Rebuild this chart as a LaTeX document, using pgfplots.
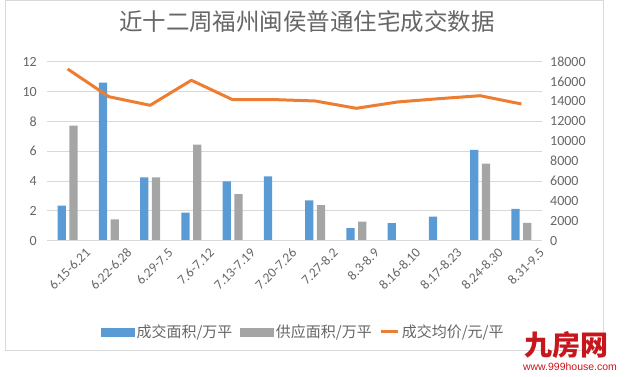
\documentclass[border=0pt]{standalone}
\usepackage{pgfplots}
\pgfplotsset{compat=1.18}
\usepackage{fontspec}
\setmainfont{Carlito}
\newfontfamily\cjk{Noto Sans CJK SC}
\newfontfamily\wm{Liberation Sans}
\definecolor{cblue}{HTML}{5B9BD5}
\definecolor{cgray}{HTML}{A5A5A5}
\definecolor{corange}{HTML}{ED7D31}
\definecolor{ctext}{HTML}{666666}
\definecolor{cgrid}{HTML}{D9D9D9}
\definecolor{wred}{HTML}{C8161D}
\begin{document}
\begin{tikzpicture}
\path[use as bounding box] (0pt,0pt) rectangle (625pt,377pt);
\draw[cgrid, line width=0.8pt] (5pt,27pt) rectangle (603pt,377pt);
\node[text=ctext, font=\cjk\fontsize{23.5}{26}\selectfont] at (307pt,355pt) {近十二周福州闽侯普通住宅成交数据};
\begin{axis}[
  at={(47pt,136.3pt)}, anchor=south west,
  scale only axis, width=495pt, height=179pt,
  xmin=-0.5, xmax=11.5, ymin=0, ymax=12,
  ytick={0,2,...,12},
  axis line style={draw=none},
  axis x line*=bottom, axis y line*=left,
  ymajorgrids, grid style={cgrid, line width=0.8pt},
  major tick length=0pt,
  xtick={0,...,11},
  xticklabels={6.15-6.21,6.22-6.28,6.29-7.5,7.6-7.12,7.13-7.19,7.20-7.26,7.27-8.2,8.3-8.9,8.16-8.10,8.17-8.23,8.24-8.30,8.31-9.5},
  xticklabel style={rotate=45, anchor=east, inner sep=0pt, xshift=7.5pt, yshift=-21.5pt, font=\fontsize{13.5}{15}\selectfont, text=ctext},
  yticklabel style={font=\fontsize{14}{16}\selectfont, text=ctext, inner sep=0pt, xshift=-10pt},
  /pgf/number format/assume math mode=true,
  ybar=3.3pt, bar width=8.3pt,
]
\addplot[fill=cblue, draw=none] coordinates {(0,2.35) (1,10.6) (2,4.25) (3,1.88) (4,3.98) (5,4.32) (6,2.71) (7,0.85) (8,1.17) (9,1.61) (10,6.09) (11,2.13)};
\addplot[fill=cgray, draw=none] coordinates {(0,7.72) (1,1.43) (2,4.25) (3,6.44) (4,3.13) (6,2.38) (7,1.28) (10,5.17) (11,1.19)};
\draw[cgrid, line width=0.8pt] (axis cs:-0.5,0) -- (axis cs:11.5,0);
\end{axis}
\begin{axis}[
  at={(47pt,136.3pt)}, anchor=south west,
  scale only axis, width=495pt, height=179pt,
  xmin=-0.5, xmax=11.5, ymin=0, ymax=18000,
  ytick={0,2000,...,18000},
  axis line style={draw=none},
  axis x line=none, axis y line*=right,
  major tick length=0pt,
  scaled y ticks=false,
  /pgf/number format/assume math mode=true,
  yticklabel style={font=\fontsize{14}{16}\selectfont, text=ctext, inner sep=0pt, xshift=8pt, /pgf/number format/1000 sep={}},
  legend columns=3,
  legend style={at={(0.518,-0.51)}, anchor=center, draw=none, fill=none, font=\cjk\fontsize{15}{17}\selectfont, text=ctext, inner sep=0pt, /tikz/every even column/.append style={column sep=5pt}, nodes={inner sep=2.5pt}},
  legend cell align=left,
]
\addlegendimage{legend image code/.code={\fill[cblue] (0pt,-4pt) rectangle (33pt,4pt);}}
\addlegendentry{成交面积/万平}
\addlegendimage{legend image code/.code={\fill[cgray] (0pt,-4pt) rectangle (33pt,4pt);}}
\addlegendentry{供应面积/万平}
\addplot[corange, line width=3pt, no markers, line join=round] coordinates {(0,17266) (1,14480) (2,13615) (3,16130) (4,14179) (5,14190) (6,14050) (7,13314) (8,13950) (9,14280) (10,14580) (11,13750)};
\addlegendentry{成交均价/元/平}
\end{axis}
\node[text=wred, font=\cjk\bfseries\fontsize{28}{30}\selectfont, inner sep=0pt] at (566pt,32pt) {九房网};
\node[text=wred, font=\wm\fontsize{10.5}{12}\selectfont, inner sep=0pt] at (570pt,10pt) {www.999house.com};
\end{tikzpicture}
\end{document}
